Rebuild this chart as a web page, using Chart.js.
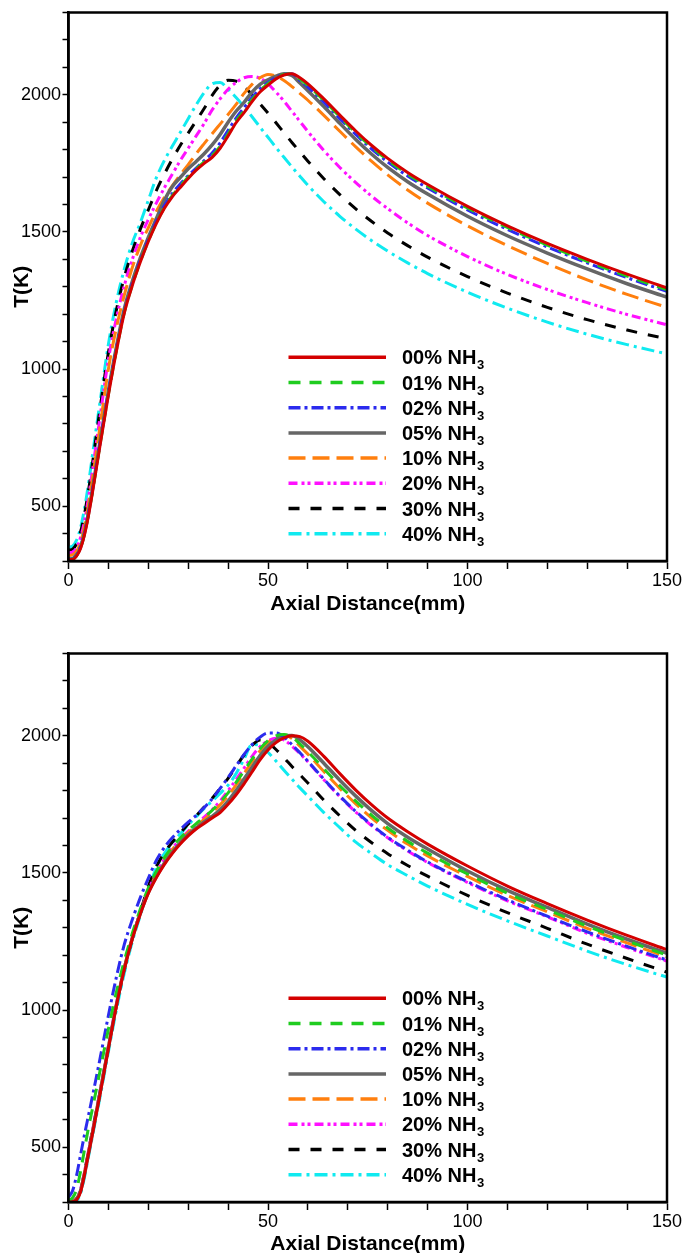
<!DOCTYPE html>
<html><head><meta charset="utf-8">
<script src="https://cdn.jsdelivr.net/npm/chart.js@4/dist/chart.umd.min.js"></script>
<style>
html,body{margin:0;padding:0;background:#fff;overflow:hidden;width:686px;height:1253px;position:relative;}
#c1{position:absolute;left:0;top:0;width:686px;height:632px;}
#c2{position:absolute;left:0;top:641px;width:686px;height:632px;}
</style></head><body>
<canvas id="c1" width="686" height="632"></canvas>
<canvas id="c2" width="686" height="632"></canvas>
<script>
// ---- data (axial distance in mm, temperature in K) ----
const axialX = [0,1,2,3,4,5,6,8,10,12,14,16,18,20,22,24,26,28,30,32,34,36,38,40,42,44,46,48,50,52,54,56,58,60,64,68,72,76,80,85,90,100,110,120,130,140,150];
const seriesLabels = ['00% NH₃','01% NH₃','02% NH₃','05% NH₃','10% NH₃','20% NH₃','30% NH₃','40% NH₃'];
const xTickLabels = [0,50,100,150];
const yTickLabels = [500,1000,1500,2000];

// upper chart
const top00 = [305,306,318,345,395,465,550,730,905,1065,1205,1305,1390,1465,1530,1585,1628,1662,1695,1725,1750,1772,1805,1850,1898,1935,1975,2010,2035,2058,2072,2077,2062,2040,1985,1926,1868,1815,1768,1717,1673,1593,1522,1458,1400,1346,1296];
const top01 = [306,307,320,348,398,468,553,733,908,1068,1207,1307,1392,1467,1532,1588,1632,1667,1700,1729,1755,1778,1812,1857,1905,1942,1982,2016,2040,2061,2074,2077,2057,2034,1979,1920,1862,1809,1762,1711,1667,1587,1516,1452,1393,1339,1289];
const top02 = [308,309,323,352,403,473,558,738,915,1075,1212,1312,1398,1472,1538,1595,1640,1675,1705,1733,1760,1788,1825,1870,1915,1953,1990,2022,2045,2063,2075,2077,2052,2028,1973,1913,1855,1802,1755,1704,1660,1580,1509,1445,1387,1333,1283];
const top05 = [305,307,320,350,402,475,560,745,920,1080,1220,1320,1405,1480,1548,1615,1665,1698,1730,1757,1785,1817,1855,1900,1940,1972,2010,2038,2055,2068,2077,2070,2043,2015,1957,1896,1837,1783,1735,1683,1638,1557,1486,1423,1365,1311,1262];
const top10 = [320,322,335,368,425,505,600,800,1000,1150,1270,1370,1450,1515,1575,1625,1668,1708,1745,1785,1822,1858,1893,1928,1965,2005,2038,2062,2074,2068,2052,2030,2005,1980,1925,1867,1810,1757,1708,1653,1605,1522,1450,1385,1325,1272,1225];
const top20 = [330,332,348,385,445,530,630,835,1035,1185,1305,1400,1480,1545,1605,1660,1710,1760,1805,1850,1895,1945,1985,2020,2045,2062,2067,2060,2040,2010,1977,1940,1903,1866,1797,1735,1680,1630,1585,1533,1487,1410,1345,1290,1242,1199,1161];
const top30 = [340,343,362,405,470,555,655,865,1060,1215,1335,1430,1510,1580,1650,1710,1765,1815,1860,1905,1950,1998,2035,2053,2050,2030,2000,1967,1933,1898,1862,1826,1792,1758,1694,1636,1584,1538,1496,1450,1408,1337,1277,1225,1180,1142,1110];
const top40 = [350,354,375,420,490,580,685,890,1090,1245,1365,1460,1533,1615,1697,1760,1812,1862,1913,1963,2008,2040,2045,2020,1990,1956,1920,1882,1845,1808,1772,1737,1703,1670,1610,1557,1510,1468,1430,1387,1348,1280,1222,1171,1127,1089,1055];

// lower chart
const bot00 = [300,301,307,335,400,475,548,700,860,1015,1150,1260,1350,1425,1482,1530,1570,1605,1635,1660,1680,1700,1720,1750,1785,1825,1868,1912,1948,1975,1992,2000,1997,1980,1925,1862,1802,1748,1700,1650,1605,1525,1452,1388,1328,1272,1220];
const bot01 = [305,315,345,410,490,570,640,785,930,1065,1180,1280,1368,1445,1505,1555,1595,1627,1655,1680,1703,1728,1758,1792,1830,1872,1915,1952,1982,2000,2005,1995,1970,1942,1880,1818,1762,1710,1664,1615,1572,1496,1426,1366,1306,1252,1200];
const bot02 = [318,340,395,470,545,615,685,830,980,1120,1240,1330,1410,1480,1545,1592,1628,1658,1685,1710,1738,1770,1808,1848,1890,1932,1968,1995,2010,2010,1995,1968,1938,1907,1842,1780,1724,1675,1630,1583,1540,1468,1402,1342,1285,1232,1182];
const bot05 = [300,301,310,340,400,475,550,705,862,1018,1152,1262,1352,1428,1486,1535,1575,1610,1640,1664,1686,1706,1730,1762,1800,1842,1885,1928,1962,1985,2000,2001,1985,1960,1900,1838,1780,1727,1680,1630,1587,1507,1436,1374,1313,1258,1207];
const bot10 = [302,303,312,342,405,480,555,710,866,1020,1155,1265,1355,1432,1495,1545,1585,1618,1648,1672,1695,1720,1748,1782,1820,1862,1905,1945,1975,1995,2004,1990,1962,1933,1870,1808,1752,1700,1655,1605,1562,1487,1418,1358,1298,1245,1193];
const bot20 = [305,306,316,346,410,486,560,712,868,1022,1155,1265,1355,1435,1500,1550,1590,1622,1652,1678,1703,1730,1762,1800,1840,1882,1925,1960,1982,1991,1985,1962,1935,1905,1840,1778,1722,1672,1628,1580,1538,1465,1398,1340,1280,1228,1178];
const bot30 = [300,301,310,342,408,485,560,710,865,1015,1148,1262,1358,1450,1522,1573,1612,1645,1678,1708,1740,1772,1808,1845,1888,1930,1965,1985,1975,1950,1920,1888,1858,1828,1765,1708,1655,1610,1570,1527,1488,1418,1355,1298,1240,1188,1138];
const bot40 = [300,300,304,330,390,465,540,690,848,1000,1135,1250,1345,1440,1518,1570,1610,1642,1675,1705,1735,1762,1790,1820,1862,1915,1968,1965,1940,1908,1874,1842,1810,1780,1720,1665,1612,1570,1530,1490,1452,1385,1325,1270,1215,1165,1120];

// ---- styles ----
const lineColors = ['#d40000','#1fcc1f','#2b2bee','#666666','#ff7f0e','#ff10ff','#000000','#10eaf0'];
const lineDashes = [[],[12,9],[12,4,3,4],[],[17,7],[9,4,3,3,3,4],[11,11],[13,5,3,5]];
const lineWidths = [3,3,3,3.5,3,3,3,3];

Chart.defaults.font.family = "'Liberation Sans', Arial, sans-serif";
Chart.defaults.color = '#000';

function makeSets(arrs){
  return arrs.map((arr, i) => ({
    label: seriesLabels[i],
    data: axialX.map((x, j) => ({x: x, y: arr[j]})),
    borderColor: lineColors[i],
    backgroundColor: lineColors[i],
    borderWidth: lineWidths[i],
    borderDash: lineDashes[i],
    borderCapStyle: 'butt',
    pointRadius: 0,
    fill: false,
    cubicInterpolationMode: 'monotone'
  }));
}

const inLegend = {
  id: 'inLegend',
  afterDatasetsDraw(chart){
    const {ctx, chartArea: a} = chart;
    chart.data.datasets.forEach((ds, i) => {
      const y = a.top + 344.8 + i * 25.2;
      ctx.save();
      ctx.strokeStyle = ds.borderColor;
      ctx.lineWidth = 3.5;
      ctx.lineCap = 'butt';
      ctx.setLineDash(ds.borderDash || []);
      ctx.beginPath();
      ctx.moveTo(a.left + 220, y);
      ctx.lineTo(a.left + 317.5, y);
      ctx.stroke();
      ctx.setLineDash([]);
      const parts = ds.label.split('₃');
      ctx.fillStyle = '#000';
      ctx.textBaseline = 'alphabetic';
      ctx.textAlign = 'left';
      ctx.font = "bold 20px 'Liberation Sans', Arial, sans-serif";
      const tx = a.left + 333.5;
      ctx.fillText(parts[0], tx, y + 7);
      const w = ctx.measureText(parts[0]).width;
      ctx.font = "bold 13px 'Liberation Sans', Arial, sans-serif";
      ctx.fillText('3', tx + w + 0.5, y + 12);
      ctx.restore();
    });
  }
};

const frame = {
  id: 'frame',
  afterDraw(chart){
    const {ctx, chartArea: a} = chart;
    ctx.save();
    ctx.strokeStyle = '#000';
    ctx.lineWidth = 2.5;
    ctx.strokeRect(a.left, a.top, a.right - a.left, a.bottom - a.top);
    ctx.restore();
  }
};

function makeChart(id, arrs, xHeight, titlePadBottom){
  return new Chart(document.getElementById(id), {
    type: 'line',
    data: { datasets: makeSets(arrs) },
    plugins: [inLegend, frame],
    options: {
      responsive: false,
      animation: false,
      devicePixelRatio: 1,
      layout: { padding: { top: 12.5, right: 19, left: 0, bottom: 0 } },
      plugins: { legend: { display: false }, tooltip: { enabled: false } },
      scales: {
        x: {
          type: 'linear', min: 0, max: 150,
          ticks: { stepSize: 10, autoSkip: false, maxRotation: 0, padding: 1, color: '#000',
                   font: { size: 18 },
                   callback: v => xTickLabels.includes(v) ? String(v) : '' },
          grid: { display: true, drawOnChartArea: false, drawTicks: true, tickLength: 8, tickWidth: 1.5, tickColor: '#000' },
          border: { display: true, color: '#000', width: 2.5 },
          title: { display: true, text: 'Axial Distance(mm)', color: '#000',
                   font: { size: 21, weight: 'bold' }, padding: { top: 0, bottom: titlePadBottom } },
          afterFit(s){ s.height = xHeight; }
        },
        y: {
          type: 'linear', min: 300, max: 2300,
          ticks: { stepSize: 100, autoSkip: false, padding: 1.5, color: '#000',
                   font: { size: 18 },
                   callback: v => yTickLabels.includes(v) ? String(v) : '' },
          grid: { display: true, drawOnChartArea: false, drawTicks: true, tickLength: 6, tickWidth: 1.5, tickColor: '#000' },
          border: { display: true, color: '#000', width: 2.5 },
          title: { display: true, text: 'T(K)', color: '#000',
                   font: { size: 21, weight: 'bold' }, padding: { top: 9.4, bottom: 0 } },
          afterFit(s){ s.width = 68.5; }
        }
      }
    }
  });
}

makeChart('c1', [top00, top01, top02, top05, top10, top20, top30, top40], 71, 15);
makeChart('c2', [bot00, bot01, bot02, bot05, bot10, bot20, bot30, bot40], 71, 16);
</script>
</body></html>
